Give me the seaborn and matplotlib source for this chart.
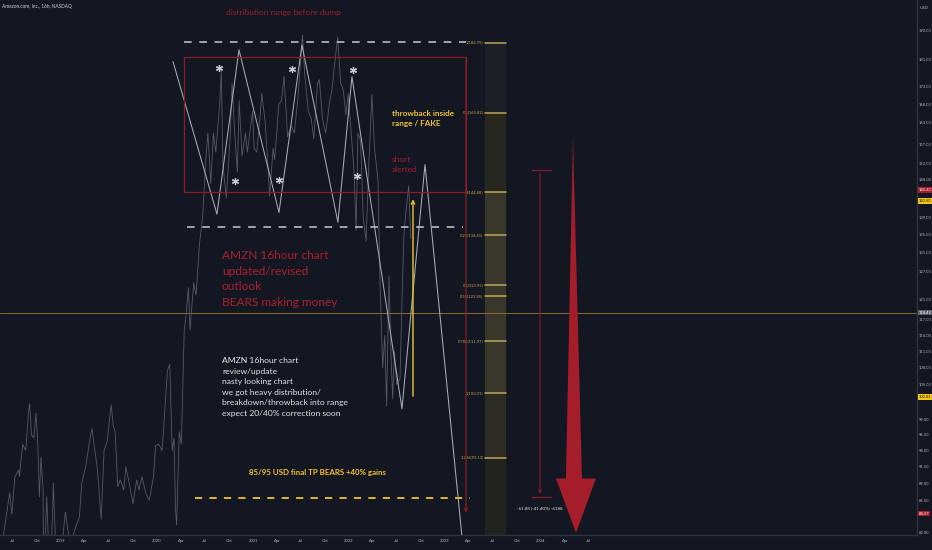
import matplotlib
matplotlib.use("Agg")
import numpy as np
import pandas as pd
import seaborn as sns
import matplotlib.pyplot as plt
import matplotlib.dates as mdates
from matplotlib.patches import Polygon

# ---- data ----
PRICE_DATES = [
    "2018-05-14", "2018-05-25", "2018-06-08", "2018-06-20", "2018-06-28", "2018-07-10", "2018-07-24",
    "2018-07-27", "2018-08-08", "2018-08-20", "2018-08-31", "2018-09-04", "2018-09-11", "2018-09-20",
    "2018-09-28", "2018-10-05", "2018-10-11", "2018-10-17", "2018-10-25", "2018-10-26", "2018-10-29",
    "2018-11-08", "2018-11-20", "2018-11-30", "2018-12-03", "2018-12-10", "2018-12-24", "2018-12-31",
    "2019-01-10", "2019-01-18", "2019-01-25", "2019-02-01", "2019-02-08", "2019-02-20", "2019-03-01",
    "2019-03-12", "2019-03-21", "2019-04-05", "2019-04-24", "2019-04-29", "2019-05-10", "2019-05-20",
    "2019-06-03", "2019-06-14", "2019-06-26", "2019-07-11", "2019-07-19", "2019-07-26", "2019-08-05",
    "2019-08-15", "2019-08-28", "2019-09-05", "2019-09-20", "2019-10-02", "2019-10-16", "2019-10-25",
    "2019-11-05", "2019-11-20", "2019-12-03", "2019-12-19", "2019-12-27",
    "2020-01-08", "2020-01-21", "2020-01-31", "2020-02-10", "2020-02-19", "2020-02-28", "2020-03-06",
    "2020-03-12", "2020-03-16", "2020-03-26", "2020-04-03", "2020-04-14", "2020-04-21", "2020-04-30",
    "2020-05-06", "2020-05-20", "2020-05-29", "2020-06-11", "2020-06-23", "2020-07-06", "2020-07-13",
    "2020-07-24", "2020-08-03", "2020-08-12", "2020-08-27", "2020-09-02", "2020-09-08", "2020-09-21",
    "2020-10-05", "2020-10-13", "2020-10-23", "2020-11-02", "2020-11-09", "2020-11-20", "2020-12-03",
    "2020-12-10", "2020-12-21", "2020-12-30",
    "2021-01-05", "2021-01-15", "2021-01-28", "2021-02-03", "2021-02-16", "2021-02-26", "2021-03-05",
    "2021-03-18", "2021-03-24", "2021-04-09", "2021-04-19", "2021-04-29", "2021-05-12", "2021-05-26",
    "2021-06-07", "2021-06-21", "2021-07-08", "2021-07-16", "2021-07-30", "2021-08-10", "2021-08-20",
    "2021-09-03", "2021-09-10", "2021-09-22", "2021-10-04", "2021-10-20", "2021-10-28", "2021-11-05",
    "2021-11-19", "2021-11-30", "2021-12-10", "2021-12-20", "2021-12-29",
    "2022-01-07", "2022-01-20", "2022-01-28", "2022-02-04", "2022-02-14", "2022-02-24", "2022-03-07",
    "2022-03-16", "2022-03-29", "2022-04-08", "2022-04-21", "2022-04-29", "2022-05-09", "2022-05-17",
    "2022-05-24", "2022-06-02", "2022-06-10", "2022-06-16", "2022-06-23", "2022-07-01", "2022-07-14",
    "2022-07-22", "2022-07-29", "2022-08-05", "2022-08-16", "2022-08-24",
]
PRICE_VALUES = [
    79.5, 81, 84.5, 87.6, 84.5, 90, 91,
    90, 95, 94, 100.6, 101.7, 96.5, 96,
    100.1, 95, 87, 93, 88, 81, 78,
    87, 75, 84.5, 89, 82, 67.4, 75,
    82, 84.8, 83, 81, 79, 82, 83,
    84, 89, 91.5, 96.6, 97.5, 94, 91,
    83.8, 94, 95.5, 101.5, 98, 97, 88.5,
    89.5, 88, 91.5, 88.5, 86, 89.5, 88,
    90, 87.5, 86.5, 90, 94.8,
    95, 94, 100.5, 107.5, 108.6, 94, 96,
    85, 83, 97, 95, 115, 118, 123.5,
    115, 124.5, 122, 133, 139, 154, 160,
    147, 160, 155, 168, 177.6, 152, 143.5,
    158, 174, 160, 150, 169, 154, 160,
    155, 161, 166,
    156, 155, 165, 171, 163, 152, 144,
    156, 153, 168, 169, 176, 159, 162,
    160, 170, 188.6, 177, 166, 164, 158.5,
    174, 175, 164, 160, 169, 172, 178,
    188, 174, 172, 165, 171,
    162, 150, 136, 160, 158, 139, 133.5,
    150, 170.8, 156, 148, 124, 108, 114,
    101.3, 126, 110, 102.5, 111, 105, 106,
    122, 135, 140, 146.5, 134,
]

# hand drawn zigzag path (fractional year, price)
ZIGZAG_YEARS = [2020.167, 2020.625, 2020.854, 2021.271, 2021.51, 2021.885, 2022.031, 2022.552, 2022.792, 2023.18]
ZIGZAG_PRICES = [180.4, 139.7, 184.0, 140.1, 185.5, 137.8, 175.9, 100.8, 151.8, 81.0]

STAR_YEARS = [2020.646, 2021.406, 2022.042, 2020.813, 2021.271, 2022.083]
STAR_PRICES = [178.6, 178.3, 177.9, 147.6, 147.8, 148.8]

FIB_LEVELS = [186.2, 165.6, 144.9, 134.8, 124.0, 121.8, 112.9, 103.5, 92.9]
FIB_LABELS = ["1(186.75)", "0.5(165.82)", "0(144.88)", "0.25(134.41)", "0.5(123.95)",
              "0.55(121.85)", "0.786(111.97)", "1(103.01)", "1.236(93.13)"]

Y_TICKS = [190, 181, 173, 168, 163, 157, 152, 148, 139, 135, 131, 127, 121, 117, 114, 111,
           108, 105, 99, 96.5, 94, 91.5, 89, 86.5, 82]
X_TICKS = ["2018-07-01", "2018-10-01", "2019-01-01", "2019-04-01", "2019-07-01", "2019-10-01",
           "2020-01-01", "2020-04-01", "2020-07-01", "2020-10-01", "2021-01-01", "2021-04-01",
           "2021-07-01", "2021-10-01", "2022-01-01", "2022-04-01", "2022-07-01", "2022-10-01",
           "2023-01-01", "2023-04-01", "2023-07-01", "2023-10-01", "2024-01-01", "2024-04-01",
           "2024-07-01"]

PRICE_TAGS = [145.41, 142.81, 118.45, 102.81, 84.57]

BG = "#131722"
RED = "#9c1d29"
GOLD = "#f2c230"
FONT = ["Lato", "DejaVu Sans"]


def yr(f):
    return pd.Timestamp("2019-01-01") + pd.Timedelta(days=(f - 2019) * 365.25)


sns.set_theme(style="dark")
plt.rcParams["font.family"] = FONT
plt.rcParams["axes.facecolor"] = BG
plt.rcParams["figure.facecolor"] = BG

fig = plt.figure(figsize=(9.32, 5.5), dpi=100)
ax = fig.add_axes([0, 15 / 550, 917 / 932, 535 / 550])
ax.set_facecolor(BG)

price = pd.DataFrame({"date": pd.to_datetime(PRICE_DATES), "close": PRICE_VALUES})
zig = pd.DataFrame({"date": [yr(v) for v in ZIGZAG_YEARS], "price": ZIGZAG_PRICES})

ax.set_yscale("log")

# fib band
fx0, fx1 = yr(2023.417), yr(2023.635)
band_cols = ["#1c1f25", "#26281f", "#37372a", "#39382a", "#39382a", "#383729", "#383729", "#2b2b22", "#22231e"]
edges = FIB_LEVELS + [81.0]
for i in range(len(FIB_LEVELS)):
    ax.fill_between([fx0, fx1], edges[i + 1], edges[i], color=band_cols[i], lw=0, zorder=1)
for lvl, lab in zip(FIB_LEVELS, FIB_LABELS):
    ax.plot([fx0, fx1], [lvl, lvl], color="#bfa85a", lw=1.1, zorder=2)
    ax.annotate(lab, xy=(fx0, lvl), xytext=(-1, 0), textcoords="offset points", ha="right",
                va="center", fontsize=2.9, color="#c9a64a")

# price + drawings
sns.lineplot(data=price, x="date", y="close", ax=ax, color="#575a66", lw=0.6, zorder=3)
sns.lineplot(data=zig, x="date", y="price", ax=ax, color="#a9acb5", lw=0.75, zorder=4)

ax.plot([yr(v) for v in STAR_YEARS], STAR_PRICES, ls="none", marker=(6, 2, 0), ms=5.0, mew=0.9,
        color="#c9ccd4", zorder=5)

# distribution range box
rx0, rx1 = yr(2020.281), yr(2023.219)
ax.plot([rx0, rx1, rx1, rx0, rx0], [181.9, 181.9, 144.9, 144.9, 181.9], color="#8c1c24", lw=0.9, zorder=4)
ax.annotate("", xy=(rx1, 84.3), xytext=(rx1, 181.9),
            arrowprops=dict(arrowstyle="->", color="#8c1c24", lw=0.9, mutation_scale=6), zorder=4)

ax.plot([yr(2020.281), yr(2023.219)], [186.4, 186.4], color="#c8cad0", lw=1.1, ls=(0, (5, 5)), zorder=4)
ax.plot([yr(2020.31), yr(2023.19)], [136.65, 136.65], color="#c8cad0", lw=1.1, ls=(0, (5, 5)), zorder=4)
ax.plot([yr(2020.396), yr(2023.26)], [86.85, 86.85], color=GOLD, lw=1.3, ls=(0, (4, 4)), zorder=4)

# current price line
ax.axhline(118.45, color="#8f6630", lw=0.7, zorder=2)

# throwback arrow
ax.annotate("", xy=(yr(2022.667), 143.9), xytext=(yr(2022.667), 102.5),
            arrowprops=dict(arrowstyle="->", color=GOLD, lw=1.0, mutation_scale=6), zorder=6)

# measure tool
mx = yr(2023.99)
ax.annotate("", xy=(mx, 87.0), xytext=(mx, 150.3),
            arrowprops=dict(arrowstyle="->", color="#8c1c24", lw=0.8, mutation_scale=5))
ax.plot([yr(2023.906), yr(2024.104)], [150.3, 150.3], color="#8c1c24", lw=0.9)
ax.plot([yr(2023.906), yr(2024.104)], [87.0, 87.0], color="#8c1c24", lw=0.9)
ax.text(mx, 85.3, "-61.88 (-41.40%) -6188", ha="center", va="center", fontsize=3.2, color="#e6e6e6")

# big red arrow
d = mdates.date2num
arrow_pts = [(d(yr(2024.333)), 159.1), (d(yr(2024.427)), 89.7), (d(yr(2024.573)), 89.7),
             (d(yr(2024.365)), 81.9), (d(yr(2024.156)), 89.7), (d(yr(2024.26)), 89.7)]
ax.add_patch(Polygon(arrow_pts, closed=True, fc="#a51d2a", ec="none", zorder=5))

# texts
ax.text(yr(2021.3125), 195.8, "distribution range before dump", ha="center", va="center",
        fontsize=6.0, color=RED)
ax.text(yr(2022.448), 164.1, "throwback inside\nrange / FAKE", ha="left", va="center",
        fontsize=5.9, color=GOLD, fontweight="bold", linespacing=1.5)
ax.text(yr(2022.448), 151.8, "short\nalerted", ha="left", va="center",
        fontsize=6.0, color=RED, linespacing=1.6)
ax.text(yr(2020.677), 125.3, "AMZN 16hour chart\nupdated/revised\noutlook\nBEARS making money",
        ha="left", va="center", fontsize=8.6, color="#ab1f2d", linespacing=1.5)
ax.text(yr(2020.677), 104.6,
        "AMZN 16hour chart\nreview/update\nnasty looking chart\nwe got heavy distribution/\n"
        "breakdown/throwback into range\nexpect 20/40% correction soon",
        ha="left", va="center", fontsize=6.1, color="#e2e3e6", linespacing=1.58)
ax.text(yr(2021.677), 90.6, "85/95 USD final TP BEARS +40% gains", ha="center", va="center",
        fontsize=5.7, color=GOLD, fontweight="bold")
ax.text(0.002, 0.987, "Amazon.com, Inc., 16h, NASDAQ", transform=ax.transAxes, ha="left", va="center",
        fontsize=3.4, color="#d1d4dc")
fig.text(0.996, 0.985, "USD", ha="right", va="center", fontsize=3.2, color="#b2b5be")

# axes
ax.set_ylim(81.6, 200)
ax.set_xlim(yr(2018.365), yr(2027.917))
ax.yaxis.set_major_locator(matplotlib.ticker.FixedLocator(Y_TICKS))
ax.yaxis.set_minor_locator(matplotlib.ticker.NullLocator())
ax.yaxis.set_major_formatter(matplotlib.ticker.FuncFormatter(lambda v, p: f"{v:.2f}"))
ax.yaxis.tick_right()
xt = pd.to_datetime(X_TICKS)
ax.set_xticks(xt)
ax.set_xticklabels([str(t.year) if t.month == 1 else t.strftime("%b") for t in xt])
ax.tick_params(axis="both", length=0, labelsize=3.0, labelcolor="#b2b5be")
ax.tick_params(axis="y", pad=1.5)
ax.tick_params(axis="x", pad=3)
ax.set_xlabel("")
ax.set_ylabel("")
ax.grid(False)
for s in ["top", "left"]:
    ax.spines[s].set_visible(False)
for s in ["right", "bottom"]:
    ax.spines[s].set_visible(True)
    ax.spines[s].set_color("#2f333e")
    ax.spines[s].set_linewidth(1.0)

tag_style = {145.41: ("#a51d2d", "white"), 142.81: ("#f5c518", "#131722"), 118.45: ("#5d606b", "white"),
             102.81: ("#f5c518", "#131722"), 84.57: ("#a51d2d", "white")}
for v in PRICE_TAGS:
    fc, tc = tag_style[v]
    ax.annotate(f"{v:.2f}", xy=(1.0, v), xycoords=("axes fraction", "data"), xytext=(1.2, 0),
                textcoords="offset points", ha="left", va="center", fontsize=3.0, color=tc,
                bbox=dict(boxstyle="square,pad=0.2", fc=fc, ec="none"), annotation_clip=False)

fig.savefig("out.png", dpi=100, facecolor=BG)
